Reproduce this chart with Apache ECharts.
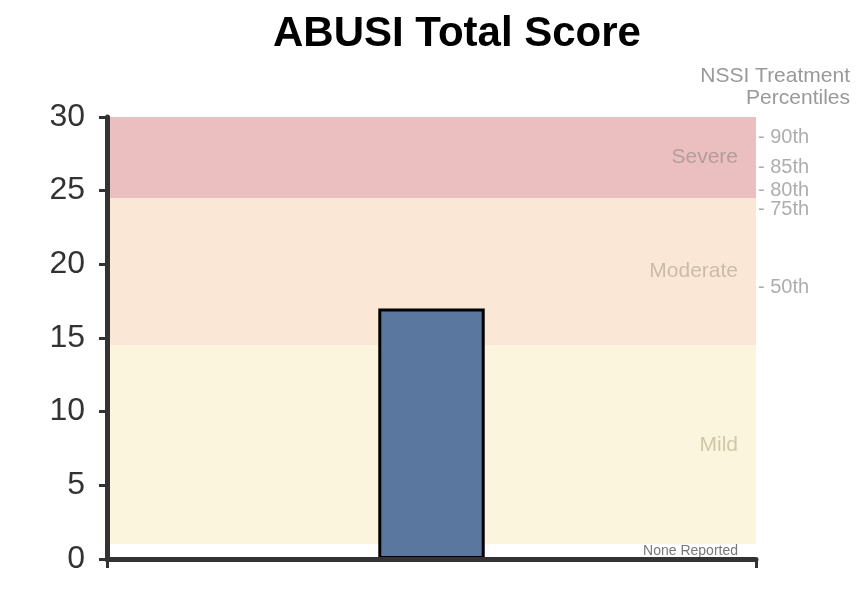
<!DOCTYPE html>
<html lang="en">
<head>
    <meta charset="UTF-8">
    <title>ABUSI Total Score</title>
    <style type="text/css">
        body {
            margin: 0;
            background: #fff;
        }

        #chart {
            width: 862px;
            height: 616px;
        }
    </style>
    <script type="text/javascript" src="https://cdn.jsdelivr.net/npm/echarts@6/dist/echarts.min.js"></script>
</head>
<body>
    <div id="chart"></div>
</body>
</html>
<script type="text/javascript">
    // data
    var categories = [''];
    var scoreValues = [17];

    var bandNames = ['None Reported', 'Mild', 'Moderate', 'Severe'];
    var bandLows = [0, 1, 14.5, 24.5];
    var bandHighs = [1, 14.5, 24.5, 30];

    var pctNames = ['90th', '85th', '80th', '75th', '50th'];
    var pctScores = [28.6, 26.6, 25.0, 23.7, 18.4];

    var yTicks = [0, 5, 10, 15, 20, 25, 30];

    // band styles
    var bandFill = {
        'None Reported': 'rgba(0,0,0,0)',
        'Mild': '#fcf5de',
        'Moderate': '#fbe7d5',
        'Severe': '#ebbfbf'
    };
    var bandText = {
        'None Reported': '#777777',
        'Mild': '#d0c6a8',
        'Moderate': '#cbbca8',
        'Severe': '#b39c9c'
    };

    var areas = [];
    for (var i = 0; i < bandNames.length; i++) {
        var nm = bandNames[i];
        areas.push([{
            name: nm,
            yAxis: bandLows[i],
            itemStyle: { color: bandFill[nm] },
            label: {
                show: true,
                position: 'insideRight',
                distance: 18,
                color: bandText[nm],
                fontSize: nm === 'None Reported' ? 14 : 21,
                fontFamily: 'Liberation Sans'
            }
        }, {
            yAxis: bandHighs[i]
        }]);
    }

    var pctData = [];
    for (var j = 0; j < pctNames.length; j++) {
        pctData.push({ name: pctNames[j], value: [1, pctScores[j]] });
    }

    var headStyle = { fontSize: 21, fontWeight: 'normal', color: '#999', fontFamily: 'Liberation Sans' };

    var chart = echarts.init(document.getElementById('chart'));
    var option = {
        animation: false,
        textStyle: { fontFamily: 'Liberation Sans' },
        title: [{
            text: 'ABUSI Total Score',
            left: 452,
            textAlign: 'center',
            top: 8,
            textStyle: { fontSize: 42, fontWeight: 'bold', color: '#000', fontFamily: 'Liberation Sans' }
        }, {
            text: 'NSSI Treatment',
            right: 7,
            top: 61,
            textStyle: headStyle
        }, {
            text: 'Percentiles',
            right: 7,
            top: 83,
            textStyle: headStyle
        }],
        grid: {
            left: 107,
            right: 106,
            top: 117,
            bottom: 57
        },
        xAxis: [{
            type: 'category',
            data: categories,
            z: 5,
            axisLine: { lineStyle: { color: '#333', width: 5 } },
            axisTick: { show: true, interval: 0, length: 9, lineStyle: { color: '#333', width: 3 } },
            axisLabel: { show: false }
        }, {
            type: 'value',
            min: 0,
            max: 1,
            show: false
        }],
        yAxis: {
            type: 'value',
            min: yTicks[0],
            max: yTicks[yTicks.length - 1],
            interval: 5,
            z: 5,
            splitLine: { show: false },
            axisLine: { show: true, lineStyle: { color: '#333', width: 5 } },
            axisTick: { show: true, length: 8, lineStyle: { color: '#333', width: 3 } },
            axisLabel: { fontSize: 32, color: '#333', margin: 22, fontFamily: 'Liberation Sans' }
        },
        series: [{
            name: 'Bands',
            type: 'line',
            data: [],
            z: 1,
            markArea: {
                silent: true,
                data: areas
            }
        }, {
            name: 'ABUSI Total Score',
            type: 'bar',
            data: scoreValues,
            barWidth: '16.4%',
            z: 3,
            itemStyle: {
                color: '#5a77a0',
                borderColor: '#000',
                borderWidth: 3
            }
        }, {
            name: 'Percentiles',
            type: 'scatter',
            xAxisIndex: 1,
            data: pctData,
            symbolSize: 0,
            clip: false,
            silent: true,
            label: {
                show: true,
                position: 'right',
                distance: 2,
                color: '#999',
                fontSize: 20,
                fontFamily: 'Liberation Sans',
                formatter: function (p) { return '- ' + p.name; }
            }
        }]
    };
    chart.setOption(option);
</script>
